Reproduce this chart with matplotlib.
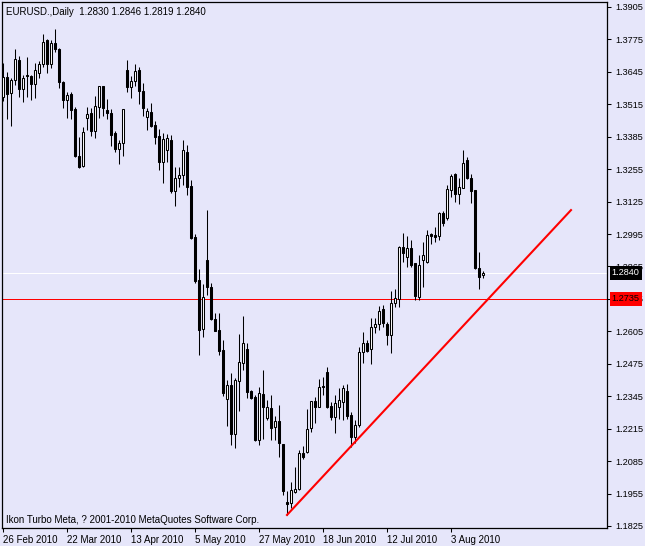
import matplotlib
matplotlib.use("Agg")
import matplotlib.pyplot as plt
import matplotlib.transforms as mtransforms
import numpy as np

# daily EURUSD bars, 26 Feb 2010 .. 13 Aug 2010
opens = [1.3546, 1.3623, 1.3559, 1.3611, 1.3693, 1.3575, 1.3632, 1.3630, 1.3598, 1.3639,
         1.3678, 1.3773, 1.3675, 1.3759, 1.3737, 1.3603, 1.3531, 1.3555, 1.3496, 1.3308,
         1.3269, 1.3461, 1.3479, 1.3409, 1.3505, 1.3587, 1.3492, 1.3480, 1.3400, 1.3336,
         1.3359, 1.3653, 1.3586, 1.3610, 1.3653, 1.3568, 1.3465, 1.3483, 1.3432, 1.3388,
         1.3285, 1.3332, 1.3372, 1.3169, 1.3218, 1.3232, 1.3324, 1.3188, 1.2982, 1.2811,
         1.2613, 1.2891, 1.2782, 1.2653, 1.2610, 1.2530, 1.2335, 1.2389, 1.2194, 1.2407,
         1.2479, 1.2533, 1.2367, 1.2343, 1.2170, 1.2354, 1.2257, 1.2297, 1.2220, 1.2247,
         1.2154, 1.1921, 1.1916, 1.1962, 1.1972, 1.2116, 1.2123, 1.2216, 1.2326, 1.2303,
         1.2386, 1.2443, 1.2306, 1.2263, 1.2301, 1.2323, 1.2366, 1.2270, 1.2180, 1.2230,
         1.2523, 1.2560, 1.2533, 1.2621, 1.2634, 1.2693, 1.2634, 1.2589, 1.2717, 1.2736,
         1.2942, 1.2902, 1.2938, 1.2878, 1.2744, 1.2891, 1.2884, 1.2994, 1.2991, 1.2987,
         1.3081, 1.3058, 1.3172, 1.3235, 1.3156, 1.3178, 1.3292, 1.3218, 1.3172, 1.2860,
         1.2830]
highs = [1.3679, 1.3646, 1.3622, 1.3737, 1.3710, 1.3632, 1.3705, 1.3632, 1.3679, 1.3689,
         1.3796, 1.3776, 1.3773, 1.3817, 1.3740, 1.3608, 1.3566, 1.3566, 1.3505, 1.3385,
         1.3425, 1.3504, 1.3499, 1.3548, 1.3587, 1.3587, 1.3536, 1.3496, 1.3408, 1.3371,
         1.3496, 1.3693, 1.3627, 1.3677, 1.3663, 1.3599, 1.3499, 1.3519, 1.3448, 1.3416,
         1.3399, 1.3395, 1.3392, 1.3265, 1.3265, 1.3372, 1.3352, 1.3212, 1.2995, 1.2854,
         1.2795, 1.3091, 1.2798, 1.2679, 1.2677, 1.2570, 1.2410, 1.2437, 1.2417, 1.2594,
         1.2667, 1.2560, 1.2370, 1.2350, 1.2383, 1.2450, 1.2330, 1.2350, 1.2266, 1.2310,
         1.2154, 1.1966, 1.2002, 1.2063, 1.2130, 1.2146, 1.2293, 1.2326, 1.2343, 1.2413,
         1.2422, 1.2463, 1.2323, 1.2350, 1.2377, 1.2390, 1.2394, 1.2283, 1.2250, 1.2544,
         1.2604, 1.2570, 1.2657, 1.2657, 1.2707, 1.2711, 1.2644, 1.2768, 1.2774, 1.2947,
         1.3000, 1.2987, 1.2971, 1.2878, 1.2911, 1.2964, 1.3011, 1.2999, 1.3024, 1.3085,
         1.3089, 1.3192, 1.3235, 1.3239, 1.3218, 1.3332, 1.3305, 1.3236, 1.3172, 1.2924,
         1.2846]
lows = [1.3528, 1.3456, 1.3429, 1.3592, 1.3546, 1.3525, 1.3546, 1.3533, 1.3541, 1.3619,
        1.3663, 1.3639, 1.3659, 1.3726, 1.3582, 1.3501, 1.3459, 1.3456, 1.3305, 1.3261,
        1.3264, 1.3412, 1.3389, 1.3381, 1.3459, 1.3469, 1.3456, 1.3349, 1.3323, 1.3277,
        1.3309, 1.3563, 1.3541, 1.3590, 1.3516, 1.3469, 1.3412, 1.3425, 1.3355, 1.3252,
        1.3198, 1.3285, 1.3160, 1.3109, 1.3185, 1.3192, 1.3152, 1.2976, 1.2798, 1.2510,
        1.2581, 1.2751, 1.2650, 1.2606, 1.2510, 1.2346, 1.2226, 1.2150, 1.2136, 1.2287,
        1.2450, 1.2337, 1.2333, 1.2167, 1.2150, 1.2172, 1.2250, 1.2170, 1.2170, 1.2103,
        1.1949, 1.1869, 1.1896, 1.1958, 1.1969, 1.2092, 1.2116, 1.2203, 1.2236, 1.2301,
        1.2350, 1.2297, 1.2250, 1.2199, 1.2253, 1.2250, 1.2253, 1.2143, 1.2159, 1.2223,
        1.2477, 1.2523, 1.2474, 1.2597, 1.2610, 1.2624, 1.2550, 1.2517, 1.2701, 1.2701,
        1.2884, 1.2864, 1.2864, 1.2731, 1.2731, 1.2784, 1.2878, 1.2955, 1.2964, 1.2971,
        1.3027, 1.3051, 1.3142, 1.3125, 1.3115, 1.3178, 1.3214, 1.3118, 1.2856, 1.2774,
        1.2819]
closes = [1.3623, 1.3555, 1.3611, 1.3697, 1.3575, 1.3619, 1.3628, 1.3595, 1.3651, 1.3675,
          1.3763, 1.3675, 1.3759, 1.3735, 1.3606, 1.3531, 1.3552, 1.3493, 1.3309, 1.3265,
          1.3403, 1.3477, 1.3409, 1.3508, 1.3587, 1.3499, 1.3481, 1.3392, 1.3336, 1.3360,
          1.3496, 1.3586, 1.3608, 1.3649, 1.3570, 1.3501, 1.3488, 1.3429, 1.3385, 1.3285,
          1.3376, 1.3379, 1.3169, 1.3218, 1.3232, 1.3332, 1.3185, 1.2980, 1.2808, 1.2610,
          1.2741, 1.2782, 1.2653, 1.2608, 1.2527, 1.2359, 1.2389, 1.2194, 1.2410, 1.2482,
          1.2557, 1.2363, 1.2337, 1.2170, 1.2359, 1.2303, 1.2303, 1.2216, 1.2247, 1.2156,
          1.1966, 1.1913, 1.1969, 1.1973, 1.2116, 1.2100, 1.2212, 1.2326, 1.2303, 1.2381,
          1.2381, 1.2303, 1.2263, 1.2319, 1.2330, 1.2377, 1.2266, 1.2180, 1.2230, 1.2521,
          1.2560, 1.2527, 1.2621, 1.2633, 1.2688, 1.2640, 1.2589, 1.2717, 1.2738, 1.2942,
          1.2920, 1.2938, 1.2871, 1.2747, 1.2871, 1.2911, 1.2991, 1.2987, 1.2984, 1.3078,
          1.3040, 1.3174, 1.3228, 1.3156, 1.3182, 1.3279, 1.3218, 1.3169, 1.2858, 1.2822,
          1.2840]

date_ticks = [0, 16, 32, 48, 64, 80, 96, 112]
date_labels = ["26 Feb 2010", "22 Mar 2010", "13 Apr 2010", "5 May 2010",
               "27 May 2010", "18 Jun 2010", "12 Jul 2010", "3 Aug 2010"]
price_ticks = [1.3905, 1.3775, 1.3645, 1.3515, 1.3385, 1.3255, 1.3125, 1.2995,
               1.2865, 1.2735, 1.2605, 1.2475, 1.2345, 1.2215, 1.2085, 1.1955, 1.1825]

hline_level = 1.2735
trend_bars = [71, 142]
trend_prices = [1.1869, 1.3091]

bg = "#E6E6FA"
plt.rcParams["font.family"] = "Liberation Sans"

fig = plt.figure(figsize=(6.45, 5.46), dpi=100, facecolor=bg)
ax = fig.add_axes([2 / 645, 18 / 546, 605 / 645, 526 / 546])
ax.set_facecolor(bg)

o = np.array(opens)
h = np.array(highs)
l = np.array(lows)
c = np.array(closes)
x = np.arange(len(o))

# wicks
ax.vlines(x, l, h, color="black", linewidth=0.75, zorder=2)
# bodies
up = c >= o
ax.bar(x[up], c[up] - o[up], bottom=o[up], width=0.5, color="white",
       edgecolor="black", linewidth=0.75, zorder=3)
ax.bar(x[~up], o[~up] - c[~up], bottom=c[~up], width=0.5, color="black",
       edgecolor="black", linewidth=0.75, zorder=3)

# bid line and horizontal line (1 px)
bid = c[-1]
ax.axhline(bid, color="white", linewidth=0.72, zorder=1, antialiased=False)
ax.axhline(hline_level, color="red", linewidth=0.72, zorder=1, antialiased=False)

# trendline
ax.plot(trend_bars, trend_prices, color="red", linewidth=1.5, zorder=4)

ax.set_xlim(-0.25, 151)
ax.set_ylim(1.18168, 1.39250)

ax.yaxis.tick_right()
ax.set_yticks(price_ticks)
ax.set_yticklabels(["%.4f" % p for p in price_ticks])
ax.set_xticks(date_ticks)
ax.set_xticklabels(date_labels)
for t in ax.get_xticklabels():
    t.set_ha("left")
ax.tick_params(axis="both", direction="out", length=3, width=0.75,
               labelsize=7, colors="black", pad=2)
ax.tick_params(axis="y", labelsize=6.6, pad=3)
for s in ax.spines.values():
    s.set_color("black")
    s.set_linewidth(0.9)

# price labels on the right scale
tr = mtransforms.blended_transform_factory(ax.transAxes, ax.transData)
ax.text(1.008, bid, "%.4f" % bid, transform=tr, fontsize=6.6, color="white",
        va="center", ha="left", clip_on=False, zorder=10,
        bbox=dict(boxstyle="square,pad=0.25", fc="black", ec="none"))
ax.text(1.008, hline_level, "%.4f" % hline_level, transform=tr, fontsize=6.6,
        color="black", va="center", ha="left", clip_on=False, zorder=10,
        bbox=dict(boxstyle="square,pad=0.25", fc="red", ec="none"))

title = "EURUSD.,Daily  %.4f %.4f %.4f %.4f" % (o[-1], h[-1], l[-1], c[-1])
ax.text(4 / 605, 1 - 10 / 526, title, transform=ax.transAxes, fontsize=7,
        va="center", ha="left")
ax.text(4 / 605, 8 / 526, "Ikon Turbo Meta, ? 2001-2010 MetaQuotes Software Corp.",
        transform=ax.transAxes, fontsize=7, va="center", ha="left")

fig.savefig("out.png", dpi=100, facecolor=bg)
